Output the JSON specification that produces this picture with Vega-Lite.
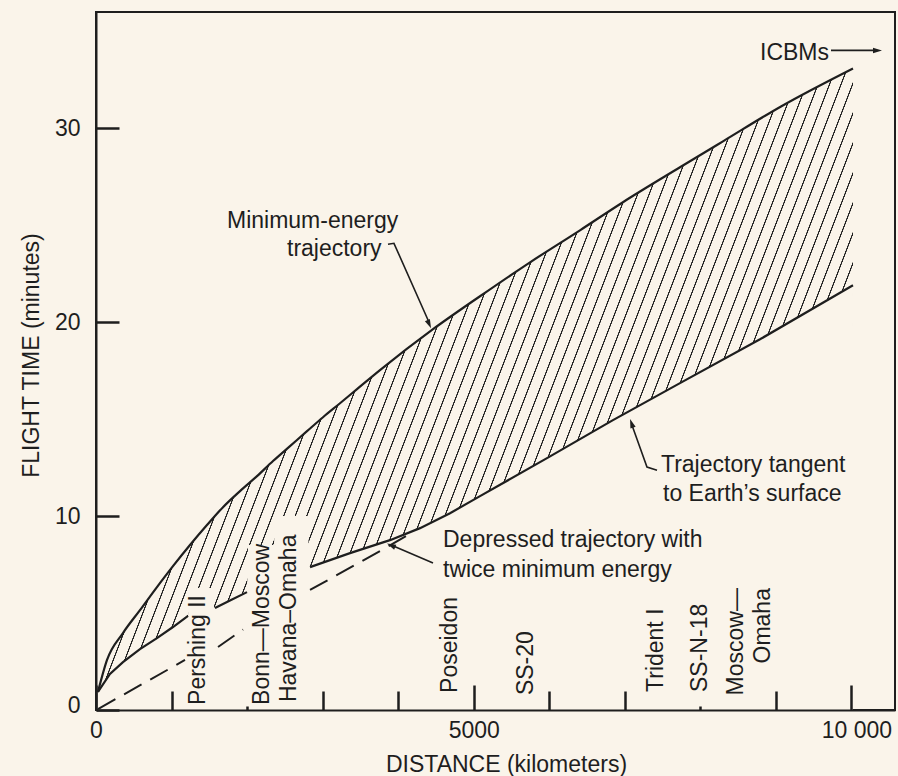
{
"$schema":"https://vega.github.io/schema/vega-lite/v6.json",
"width":799,"height":698,
"autosize":{"type":"none"},
"padding":{"left":96,"top":12,"right":3,"bottom":66},
"background":"#faf4ea",
"config":{"font":"Liberation Sans","view":{"stroke":"#1e1e1e","strokeWidth":2}},
"datasets":{
"upper":[{"km":26,"min":0.93},{"km":146,"min":2.58},{"km":357,"min":3.97},{"km":582,"min":5.15},{"km":807,"min":6.34},{"km":1019,"min":7.42},{"km":1244,"min":8.51},{"km":1469,"min":9.54},{"km":1681,"min":10.46},{"km":1906,"min":11.29},{"km":2131,"min":12.06},{"km":2343,"min":12.84},{"km":2568,"min":13.61},{"km":2793,"min":14.38},{"km":3005,"min":15.10},{"km":3230,"min":15.82},{"km":3455,"min":16.55},{"km":3759,"min":17.53},{"km":4461,"min":19.64},{"km":5083,"min":21.34},{"km":5745,"min":23.09},{"km":6406,"min":24.74},{"km":6975,"min":26.19},{"km":7730,"min":27.99},{"km":8299,"min":29.33},{"km":9067,"min":31.13},{"km":10020,"min":33.09}],
"lower":[{"seg":1,"km":26,"min":0.93},{"seg":1,"km":185,"min":1.86},{"seg":1,"km":357,"min":2.47},{"seg":1,"km":582,"min":3.14},{"seg":1,"km":807,"min":3.71},{"seg":1,"km":1019,"min":4.28},{"seg":1,"km":1218,"min":4.85},
{"seg":2,"km":1575,"min":5.26},{"seg":2,"km":1787,"min":5.67},{"seg":2,"km":1999,"min":6.08},
{"seg":3,"km":2833,"min":7.37},{"seg":3,"km":3362,"min":8.09},{"seg":3,"km":3891,"min":8.76},{"seg":3,"km":4289,"min":9.38},{"seg":3,"km":4686,"min":10.15},{"seg":3,"km":5083,"min":11.03},{"seg":3,"km":5970,"min":12.99},{"seg":3,"km":6843,"min":14.95},{"seg":3,"km":7730,"min":16.86},{"seg":3,"km":8789,"min":19.12},{"seg":3,"km":10020,"min":21.91}],
"cover":[{"km":26,"min":0.93},{"km":185,"min":1.86},{"km":357,"min":2.47},{"km":582,"min":3.14},{"km":807,"min":3.71},{"km":1019,"min":4.28},{"km":1218,"min":4.85},{"km":1231,"min":6.29},{"km":1548,"min":6.29},{"km":1562,"min":5.32},{"km":1575,"min":5.26},{"km":1787,"min":5.67},{"km":1999,"min":6.08},{"km":2012,"min":8.51},{"km":2356,"min":8.51},{"km":2369,"min":10.0},{"km":2806,"min":10.0},{"km":2819,"min":7.37},{"km":2833,"min":7.37},{"km":3362,"min":8.09},{"km":3891,"min":8.76},{"km":4289,"min":9.38},{"km":4686,"min":10.15},{"km":5083,"min":11.03},{"km":5970,"min":12.99},{"km":6843,"min":14.95},{"km":7730,"min":16.86},{"km":8789,"min":19.12},{"km":10020,"min":21.91}],
"dashed":[{"seg":1,"km":26,"min":0.05},{"seg":1,"km":1178,"min":2.58},{"seg":2,"km":1615,"min":3.25},{"seg":2,"km":1946,"min":4.15},{"seg":3,"km":2833,"min":6.19},{"seg":3,"km":3852,"min":8.40},{"seg":3,"km":4196,"min":9.18}],
"markers":[{"km":2171,"name":"Bonn–Moscow"},{"km":2449,"name":"Havana–Omaha"},{"km":8435,"name":"Moscow–Omaha"}],
"leaders":[{"g":"me","km":3865,"min":24.02},{"g":"me","km":3944,"min":24.07},{"g":"me","km":4408,"min":20.0},
{"g":"tt","km":7095,"min":14.69},{"g":"tt","km":7293,"min":12.53},{"g":"tt","km":7426,"min":12.37},
{"g":"dt","km":3905,"min":8.51},{"g":"dt","km":4461,"min":7.58},
{"g":"ic","km":9729,"min":34.02},{"g":"ic","km":10325,"min":34.02}],
"hlabels":[{"km":8789,"min":33.51,"label":"ICBMs"},{"km":1734,"min":24.86,"label":"Minimum-energy"},{"km":2528,"min":23.39,"label":"trajectory"},{"km":7478,"min":12.27,"label":"Trajectory tangent"},{"km":7505,"min":10.79,"label":"to Earth’s surface"},{"km":4593,"min":8.40,"label":"Depressed trajectory with"},{"km":4593,"min":6.87,"label":"twice minimum energy"}],
"vlabels":[{"km":1443,"min":0.26,"label":"Pershing II"},{"km":2285,"min":0.26,"label":"Bonn—Moscow"},{"km":2647,"min":0.41,"label":"Havana–Omaha"},{"km":4772,"min":0.88,"label":"Poseidon"},{"km":5784,"min":0.77,"label":"SS-20"},{"km":7505,"min":0.93,"label":"Trident I"},{"km":8088,"min":0.93,"label":"SS-N-18"}],
"vlabels2":[{"km":8564,"min":6.29,"label":"Moscow—"},{"km":8921,"min":6.29,"label":"Omaha"}]
},
"encoding":{
"x":{"field":"km","type":"quantitative","scale":{"domain":[0,10576],"nice":false,"zero":false},
"axis":{"title":"DISTANCE (kilometers)","values":[0,1000,2000,3000,4000,5000,6000,7000,8000,9000,10000],
"labelExpr":"datum.value == 10000 ? '10 000' : (datum.value == 5000 ? '5000' : (datum.value == 0 ? '0' : ''))",
"tickSize":{"expr":"datum.value % 5000 == 0 ? -25 : ((datum.value == 2000 || datum.value == 8000) ? -4 : -19)"},
"labelPadding":34,"labelOffset":{"expr":"datum.value == 10000 ? 5 : 0"},
"labelFlush":false,"labelOverlap":false,"labelBound":false,
"labelFontSize":23,"labelColor":"#1e1e1e","labelFont":"Liberation Sans",
"tickColor":"#1e1e1e","tickWidth":2.5,"domainColor":"#1e1e1e","domainWidth":2,"grid":false,
"titleFontSize":23,"titleFontWeight":"normal","titleColor":"#1e1e1e","titleFont":"Liberation Sans",
"titleX":410,"titleY":61,"titleAlign":"center","titleBaseline":"alphabetic","zindex":1}},
"y":{"field":"min","type":"quantitative","scale":{"domain":[0,36],"nice":false,"zero":false},
"axis":{"title":"FLIGHT TIME (minutes)","values":[0,10,20,30],
"tickSize":-23,"labelPadding":39,"labelOffset":{"expr":"datum.value == 0 ? -5 : 0"},
"labelFontSize":23,"labelColor":"#1e1e1e","labelFont":"Liberation Sans","labelOverlap":false,"labelBound":false,"labelFlush":false,
"tickColor":"#1e1e1e","tickWidth":2.5,"domainColor":"#1e1e1e","domainWidth":2,"grid":false,
"titleFontSize":23,"titleFontWeight":"normal","titleColor":"#1e1e1e","titleFont":"Liberation Sans",
"titleX":-58,"titleY":343,"titleAngle":270,"titleAlign":"center","titleBaseline":"alphabetic","zindex":1}}
},
"layer":[
{"data":{"name":"upper"},"mark":{"type":"area","interpolate":"monotone","stroke":null,
"fill":{"gradient":"linear","x1":0,"y1":0,"x2":1.1988,"y2":0.3915,"stops":[
{"offset":0,"color":"#faf4ea"},
{"offset":0.2299,"color":"#faf4ea"},{"offset":0.2303,"color":"#222222"},{"offset":0.2312,"color":"#222222"},{"offset":0.2316,"color":"#faf4ea"},
{"offset":0.2414,"color":"#faf4ea"},{"offset":0.2418,"color":"#222222"},{"offset":0.2427,"color":"#222222"},{"offset":0.2431,"color":"#faf4ea"},
{"offset":0.2529,"color":"#faf4ea"},{"offset":0.2533,"color":"#222222"},{"offset":0.2542,"color":"#222222"},{"offset":0.2546,"color":"#faf4ea"},
{"offset":0.2644,"color":"#faf4ea"},{"offset":0.2648,"color":"#222222"},{"offset":0.2657,"color":"#222222"},{"offset":0.2661,"color":"#faf4ea"},
{"offset":0.2759,"color":"#faf4ea"},{"offset":0.2763,"color":"#222222"},{"offset":0.2772,"color":"#222222"},{"offset":0.2776,"color":"#faf4ea"},
{"offset":0.2874,"color":"#faf4ea"},{"offset":0.2878,"color":"#222222"},{"offset":0.2887,"color":"#222222"},{"offset":0.2891,"color":"#faf4ea"},
{"offset":0.2989,"color":"#faf4ea"},{"offset":0.2993,"color":"#222222"},{"offset":0.3002,"color":"#222222"},{"offset":0.3006,"color":"#faf4ea"},
{"offset":0.3103,"color":"#faf4ea"},{"offset":0.3107,"color":"#222222"},{"offset":0.3116,"color":"#222222"},{"offset":0.3120,"color":"#faf4ea"},
{"offset":0.3218,"color":"#faf4ea"},{"offset":0.3222,"color":"#222222"},{"offset":0.3231,"color":"#222222"},{"offset":0.3235,"color":"#faf4ea"},
{"offset":0.3333,"color":"#faf4ea"},{"offset":0.3337,"color":"#222222"},{"offset":0.3346,"color":"#222222"},{"offset":0.3350,"color":"#faf4ea"},
{"offset":0.3448,"color":"#faf4ea"},{"offset":0.3452,"color":"#222222"},{"offset":0.3461,"color":"#222222"},{"offset":0.3465,"color":"#faf4ea"},
{"offset":0.3563,"color":"#faf4ea"},{"offset":0.3567,"color":"#222222"},{"offset":0.3576,"color":"#222222"},{"offset":0.3580,"color":"#faf4ea"},
{"offset":0.3678,"color":"#faf4ea"},{"offset":0.3682,"color":"#222222"},{"offset":0.3691,"color":"#222222"},{"offset":0.3695,"color":"#faf4ea"},
{"offset":0.3793,"color":"#faf4ea"},{"offset":0.3797,"color":"#222222"},{"offset":0.3806,"color":"#222222"},{"offset":0.3810,"color":"#faf4ea"},
{"offset":0.3908,"color":"#faf4ea"},{"offset":0.3912,"color":"#222222"},{"offset":0.3921,"color":"#222222"},{"offset":0.3925,"color":"#faf4ea"},
{"offset":0.4023,"color":"#faf4ea"},{"offset":0.4027,"color":"#222222"},{"offset":0.4036,"color":"#222222"},{"offset":0.4040,"color":"#faf4ea"},
{"offset":0.4138,"color":"#faf4ea"},{"offset":0.4142,"color":"#222222"},{"offset":0.4151,"color":"#222222"},{"offset":0.4155,"color":"#faf4ea"},
{"offset":0.4253,"color":"#faf4ea"},{"offset":0.4257,"color":"#222222"},{"offset":0.4266,"color":"#222222"},{"offset":0.4270,"color":"#faf4ea"},
{"offset":0.4368,"color":"#faf4ea"},{"offset":0.4372,"color":"#222222"},{"offset":0.4381,"color":"#222222"},{"offset":0.4385,"color":"#faf4ea"},
{"offset":0.4483,"color":"#faf4ea"},{"offset":0.4487,"color":"#222222"},{"offset":0.4496,"color":"#222222"},{"offset":0.4500,"color":"#faf4ea"},
{"offset":0.4598,"color":"#faf4ea"},{"offset":0.4602,"color":"#222222"},{"offset":0.4611,"color":"#222222"},{"offset":0.4615,"color":"#faf4ea"},
{"offset":0.4713,"color":"#faf4ea"},{"offset":0.4717,"color":"#222222"},{"offset":0.4726,"color":"#222222"},{"offset":0.4730,"color":"#faf4ea"},
{"offset":0.4828,"color":"#faf4ea"},{"offset":0.4832,"color":"#222222"},{"offset":0.4841,"color":"#222222"},{"offset":0.4845,"color":"#faf4ea"},
{"offset":0.4943,"color":"#faf4ea"},{"offset":0.4947,"color":"#222222"},{"offset":0.4956,"color":"#222222"},{"offset":0.4960,"color":"#faf4ea"},
{"offset":0.5057,"color":"#faf4ea"},{"offset":0.5061,"color":"#222222"},{"offset":0.5070,"color":"#222222"},{"offset":0.5074,"color":"#faf4ea"},
{"offset":0.5172,"color":"#faf4ea"},{"offset":0.5176,"color":"#222222"},{"offset":0.5185,"color":"#222222"},{"offset":0.5189,"color":"#faf4ea"},
{"offset":0.5287,"color":"#faf4ea"},{"offset":0.5291,"color":"#222222"},{"offset":0.5300,"color":"#222222"},{"offset":0.5304,"color":"#faf4ea"},
{"offset":0.5402,"color":"#faf4ea"},{"offset":0.5406,"color":"#222222"},{"offset":0.5415,"color":"#222222"},{"offset":0.5419,"color":"#faf4ea"},
{"offset":0.5517,"color":"#faf4ea"},{"offset":0.5521,"color":"#222222"},{"offset":0.5530,"color":"#222222"},{"offset":0.5534,"color":"#faf4ea"},
{"offset":0.5632,"color":"#faf4ea"},{"offset":0.5636,"color":"#222222"},{"offset":0.5645,"color":"#222222"},{"offset":0.5649,"color":"#faf4ea"},
{"offset":0.5747,"color":"#faf4ea"},{"offset":0.5751,"color":"#222222"},{"offset":0.5760,"color":"#222222"},{"offset":0.5764,"color":"#faf4ea"},
{"offset":0.5862,"color":"#faf4ea"},{"offset":0.5866,"color":"#222222"},{"offset":0.5875,"color":"#222222"},{"offset":0.5879,"color":"#faf4ea"},
{"offset":0.5977,"color":"#faf4ea"},{"offset":0.5981,"color":"#222222"},{"offset":0.5990,"color":"#222222"},{"offset":0.5994,"color":"#faf4ea"},
{"offset":0.6092,"color":"#faf4ea"},{"offset":0.6096,"color":"#222222"},{"offset":0.6105,"color":"#222222"},{"offset":0.6109,"color":"#faf4ea"},
{"offset":0.6207,"color":"#faf4ea"},{"offset":0.6211,"color":"#222222"},{"offset":0.6220,"color":"#222222"},{"offset":0.6224,"color":"#faf4ea"},
{"offset":0.6322,"color":"#faf4ea"},{"offset":0.6326,"color":"#222222"},{"offset":0.6335,"color":"#222222"},{"offset":0.6339,"color":"#faf4ea"},
{"offset":0.6437,"color":"#faf4ea"},{"offset":0.6441,"color":"#222222"},{"offset":0.6450,"color":"#222222"},{"offset":0.6454,"color":"#faf4ea"},
{"offset":0.6552,"color":"#faf4ea"},{"offset":0.6556,"color":"#222222"},{"offset":0.6565,"color":"#222222"},{"offset":0.6569,"color":"#faf4ea"},
{"offset":0.6667,"color":"#faf4ea"},{"offset":0.6671,"color":"#222222"},{"offset":0.6680,"color":"#222222"},{"offset":0.6684,"color":"#faf4ea"},
{"offset":0.6782,"color":"#faf4ea"},{"offset":0.6786,"color":"#222222"},{"offset":0.6795,"color":"#222222"},{"offset":0.6799,"color":"#faf4ea"},
{"offset":0.6897,"color":"#faf4ea"},{"offset":0.6901,"color":"#222222"},{"offset":0.6910,"color":"#222222"},{"offset":0.6914,"color":"#faf4ea"},
{"offset":0.7011,"color":"#faf4ea"},{"offset":0.7015,"color":"#222222"},{"offset":0.7024,"color":"#222222"},{"offset":0.7028,"color":"#faf4ea"},
{"offset":0.7126,"color":"#faf4ea"},{"offset":0.7130,"color":"#222222"},{"offset":0.7139,"color":"#222222"},{"offset":0.7143,"color":"#faf4ea"},
{"offset":0.7241,"color":"#faf4ea"},{"offset":0.7245,"color":"#222222"},{"offset":0.7254,"color":"#222222"},{"offset":0.7258,"color":"#faf4ea"},
{"offset":0.7356,"color":"#faf4ea"},{"offset":0.7360,"color":"#222222"},{"offset":0.7369,"color":"#222222"},{"offset":0.7373,"color":"#faf4ea"},
{"offset":0.7471,"color":"#faf4ea"},{"offset":0.7475,"color":"#222222"},{"offset":0.7484,"color":"#222222"},{"offset":0.7488,"color":"#faf4ea"},
{"offset":0.7586,"color":"#faf4ea"},{"offset":0.7590,"color":"#222222"},{"offset":0.7599,"color":"#222222"},{"offset":0.7603,"color":"#faf4ea"},
{"offset":0.7701,"color":"#faf4ea"},{"offset":0.7705,"color":"#222222"},{"offset":0.7714,"color":"#222222"},{"offset":0.7718,"color":"#faf4ea"},
{"offset":0.7816,"color":"#faf4ea"},{"offset":0.7820,"color":"#222222"},{"offset":0.7829,"color":"#222222"},{"offset":0.7833,"color":"#faf4ea"},
{"offset":0.7931,"color":"#faf4ea"},{"offset":0.7935,"color":"#222222"},{"offset":0.7944,"color":"#222222"},{"offset":0.7948,"color":"#faf4ea"},
{"offset":0.8046,"color":"#faf4ea"},{"offset":0.8050,"color":"#222222"},{"offset":0.8059,"color":"#222222"},{"offset":0.8063,"color":"#faf4ea"},
{"offset":0.8161,"color":"#faf4ea"},{"offset":0.8165,"color":"#222222"},{"offset":0.8174,"color":"#222222"},{"offset":0.8178,"color":"#faf4ea"},
{"offset":0.8276,"color":"#faf4ea"},{"offset":0.8280,"color":"#222222"},{"offset":0.8289,"color":"#222222"},{"offset":0.8293,"color":"#faf4ea"},
{"offset":0.8391,"color":"#faf4ea"},{"offset":0.8395,"color":"#222222"},{"offset":0.8404,"color":"#222222"},{"offset":0.8408,"color":"#faf4ea"},
{"offset":0.8506,"color":"#faf4ea"},{"offset":0.8510,"color":"#222222"},{"offset":0.8519,"color":"#222222"},{"offset":0.8523,"color":"#faf4ea"},
{"offset":1,"color":"#faf4ea"}]}},
"encoding":{"y2":{"datum":0}}},
{"data":{"name":"cover"},"mark":{"type":"area","fill":"#faf4ea","stroke":null},"encoding":{"y2":{"datum":0}}},
{"data":{"name":"upper"},"mark":{"type":"line","interpolate":"monotone","color":"#1e1e1e","strokeWidth":2.2}},
{"data":{"name":"lower"},"mark":{"type":"line","color":"#1e1e1e","strokeWidth":2.2},"encoding":{"detail":{"field":"seg"}}},
{"data":{"name":"dashed"},"mark":{"type":"line","color":"#1e1e1e","strokeWidth":2,"strokeDash":[20,10]},"encoding":{"detail":{"field":"seg"}}},
{"data":{"name":"markers"},"mark":{"type":"rule","color":"#1e1e1e","strokeWidth":2.5},"encoding":{"y":{"datum":0.26,"type":"quantitative"},"y2":{"datum":-0.57}}},
{"data":{"name":"leaders"},"mark":{"type":"line","color":"#1e1e1e","strokeWidth":1.6},"encoding":{"detail":{"field":"g"}}},
{"data":{"values":[{"km":4408,"min":19.92}]},"mark":{"type":"point","shape":"M0,-1L0.55,0.8L-0.55,0.8Z","size":100,"filled":true,"color":"#1e1e1e","opacity":1,"angle":156}},
{"data":{"values":[{"km":7091,"min":14.76}]},"mark":{"type":"point","shape":"M0,-1L0.55,0.8L-0.55,0.8Z","size":100,"filled":true,"color":"#1e1e1e","opacity":1,"angle":340.5}},
{"data":{"values":[{"km":3912,"min":8.48}]},"mark":{"type":"point","shape":"M0,-1L0.55,0.8L-0.55,0.8Z","size":100,"filled":true,"color":"#1e1e1e","opacity":1,"angle":293.5}},
{"data":{"values":[{"km":10338,"min":34.02}]},"mark":{"type":"point","shape":"M0,-1L0.55,0.8L-0.55,0.8Z","size":100,"filled":true,"color":"#1e1e1e","opacity":1,"angle":90}},
{"data":{"name":"hlabels"},"mark":{"type":"text","align":"left","baseline":"alphabetic","fontSize":23,"font":"Liberation Sans","color":"#1e1e1e"},"encoding":{"text":{"field":"label"}}},
{"data":{"name":"vlabels"},"mark":{"type":"text","align":"left","baseline":"alphabetic","angle":270,"fontSize":23,"font":"Liberation Sans","color":"#1e1e1e"},"encoding":{"text":{"field":"label"}}},
{"data":{"name":"vlabels2"},"mark":{"type":"text","align":"right","baseline":"alphabetic","angle":270,"fontSize":23,"font":"Liberation Sans","color":"#1e1e1e"},"encoding":{"text":{"field":"label"}}}
]
}
